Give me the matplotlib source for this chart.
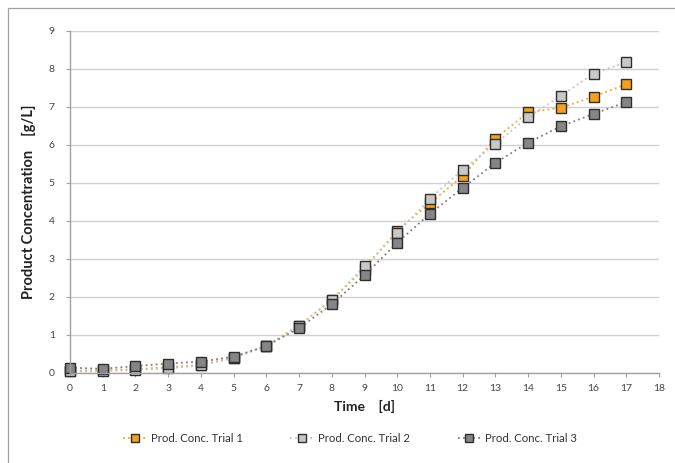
import matplotlib
matplotlib.use("Agg")
import matplotlib.pyplot as plt
from matplotlib.patches import Rectangle

days = list(range(18))
trial1 = [0.06, 0.07, 0.10, 0.15, 0.22, 0.40, 0.72, 1.25, 1.92, 2.75, 3.75, 4.47, 5.18, 6.17, 6.86, 6.98, 7.27, 7.60]
trial2 = [0.04, 0.05, 0.08, 0.12, 0.20, 0.39, 0.71, 1.24, 1.93, 2.81, 3.68, 4.59, 5.35, 6.03, 6.73, 7.29, 7.88, 8.18]
trial3 = [0.14, 0.11, 0.18, 0.25, 0.30, 0.43, 0.71, 1.18, 1.81, 2.57, 3.43, 4.19, 4.87, 5.53, 6.06, 6.49, 6.82, 7.13]
names = ["Prod. Conc. Trial 1", "Prod. Conc. Trial 2", "Prod. Conc. Trial 3"]
xticks = list(range(0, 19))
yticks = list(range(0, 10))

plt.rcParams['font.family'] = ['Lato', 'DejaVu Sans']

fig = plt.figure(figsize=(6.75, 4.63), dpi=100)
fig.patches.append(Rectangle((8/675, -0.1), 1.2, 1 - 8/463 + 0.1, transform=fig.transFigure,
                             fill=False, edgecolor='#a0a0a0', linewidth=0.9))
ax = fig.add_axes([70/675, 1 - 373/463, (659 - 70)/675, (373 - 31)/463])

styles = [
    dict(line='#F5A623', face='#F5A01A'),
    dict(line='#C4C4C4', face='#C8C8C8'),
    dict(line='#7F7F7F', face='#858585'),
]
for vals, name, st in zip([trial1, trial2, trial3], names, styles):
    ax.plot(days, vals, linestyle=(0, (1, 1.8)), color=st['line'], linewidth=1.3,
            marker='s', markersize=7.2, markerfacecolor=st['face'],
            markeredgecolor='#2e2e2e', markeredgewidth=1.0, label=name, clip_on=False)

ax.set_xlim(0, 18)
ax.set_ylim(0, 9)
ax.set_xticks(xticks)
ax.set_yticks(yticks)
ax.grid(axis='y', color='#d0d0d0', linewidth=1.0)
ax.set_axisbelow(True)
for s in ['top', 'right']:
    ax.spines[s].set_visible(False)
for s in ['left', 'bottom']:
    ax.spines[s].set_color('#a0a0a0')
    ax.spines[s].set_linewidth(1.0)
ax.tick_params(axis='both', colors='#a0a0a0', labelcolor='#444444', labelsize=7.5, length=3)
ax.tick_params(axis='y', pad=8)
ax.tick_params(axis='x', pad=5)
ax.set_xlabel("Time    [d]", fontsize=10, fontweight='bold', color='#222222', labelpad=5)
ax.set_ylabel("Product Concentration    [g/L]", fontsize=10.5, fontweight='bold', color='#222222', labelpad=9)

fig.legend(loc='center', bbox_to_anchor=(350/675, 1 - 438/463), ncol=3, frameon=False,
           fontsize=8.2, columnspacing=4.2, handlelength=2.0, handletextpad=0.4,
           labelcolor='#333333', markerscale=0.8)

fig.savefig("out.png", dpi=100)
